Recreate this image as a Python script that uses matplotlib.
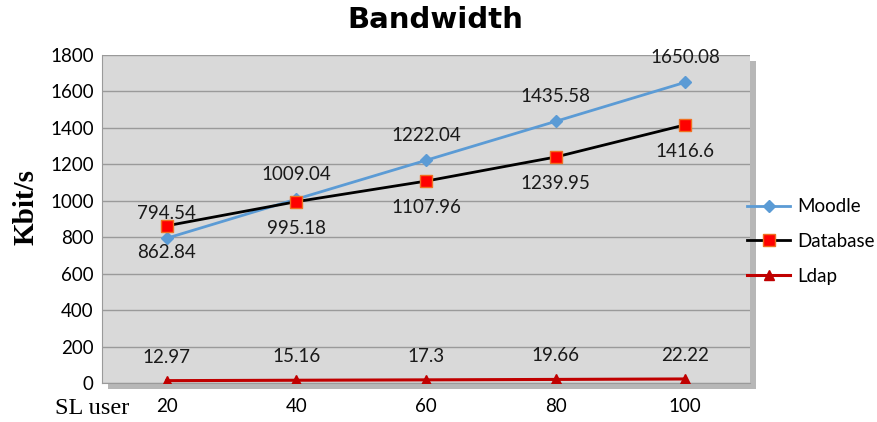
import matplotlib.pyplot as plt
import matplotlib.patheffects as pe

users = [20, 40, 60, 80, 100]
moodle = [794.54, 1009.04, 1222.04, 1435.58, 1650.08]
database = [862.84, 995.18, 1107.96, 1239.95, 1416.6]
ldap = [12.97, 15.16, 17.3, 19.66, 22.22]

fig = plt.figure(figsize=(8.78, 4.22), dpi=100)
ax = fig.add_axes([0.1162, 0.0924, 0.738, 0.7773])

x = list(range(len(users)))
ax.plot(x, moodle, color='#5b9bd5', lw=2, marker='D', ms=6, label='Moodle', zorder=3)
ax.plot(x, database, color='black', lw=2, marker='s', ms=8, mfc='#ff0000', mec='#f07020', label='Database', zorder=4)
ax.plot(x, ldap, color='#c00000', lw=2.2, marker='^', ms=7, label='Ldap', zorder=3)

lab_font = dict(fontsize=13.5, family='Lato', color='#1a1a1a', ha='center', va='center')
for i in x:
    ax.annotate(f'{moodle[i]:g}', (i, moodle[i]), xytext=(0, 18), textcoords='offset points', **lab_font)
    ax.annotate(f'{database[i]:g}', (i, database[i]), xytext=(0, -19), textcoords='offset points', **lab_font)
    ax.annotate(f'{ldap[i]:g}', (i, ldap[i]), xytext=(0, 17), textcoords='offset points', **lab_font)

ax.set_xlim(-0.5, 4.5)
ax.set_ylim(0, 1800)
ax.set_yticks(range(0, 1801, 200))
ax.set_xticks(x)
ax.set_xticklabels([str(u) for u in users])
ax.tick_params(length=0, labelsize=13.5, pad=6)
for t in ax.get_xticklabels() + ax.get_yticklabels():
    t.set_family('Lato')
ax.tick_params(axis='x', pad=11)

ax.set_facecolor('#d9d9d9')
ax.grid(axis='y', color='#9a9a9a', lw=1)
ax.set_axisbelow(True)
for s in ['top', 'right']:
    ax.spines[s].set_visible(False)
ax.spines['left'].set_color('#9a9a9a')
ax.spines['bottom'].set_color('#9a9a9a')
ax.patch.set_path_effects([pe.SimplePatchShadow(offset=(4, -4), shadow_rgbFace='#707070', alpha=0.5), pe.Normal()])

fig.text(0.496, 0.952, 'Bandwidth', fontsize=21, fontweight='bold', ha='center', va='center')
fig.text(0.03, 0.51, 'Kbit/s', fontsize=21, fontweight='bold', family='Liberation Serif', rotation=90, ha='center', va='center')
fig.text(0.063, 0.033, 'SL user', fontsize=17.5, family='Liberation Serif', ha='left', va='center')

ax.legend(loc='center left', bbox_to_anchor=(0.851, 0.428), bbox_transform=fig.transFigure, frameon=False,
          prop={'family': 'Lato', 'size': 13.5}, handlelength=2.3, labelspacing=0.95, handletextpad=0.35,
          borderaxespad=0, borderpad=0)

fig.savefig('out.png', dpi=100)
